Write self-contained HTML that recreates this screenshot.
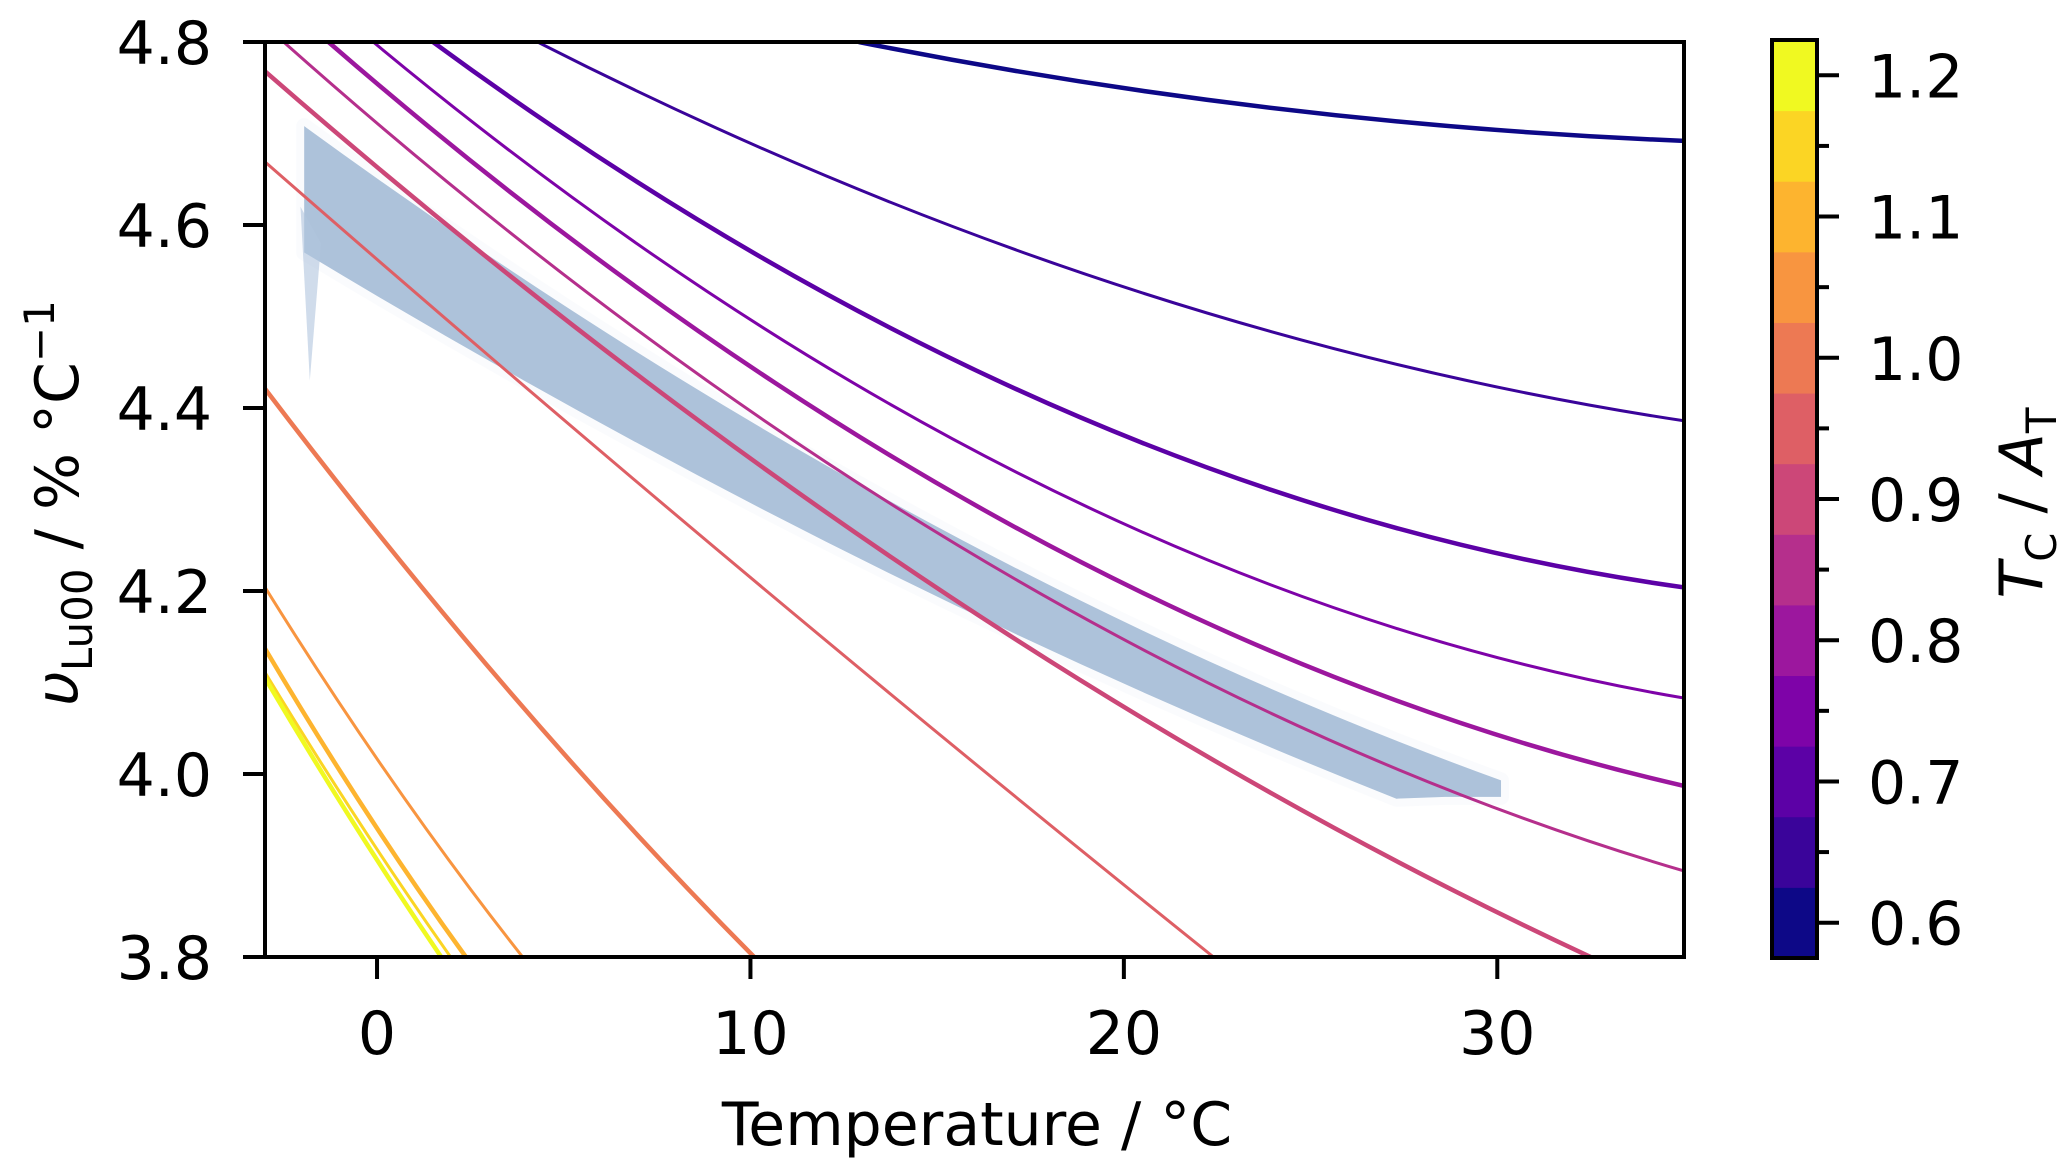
<!DOCTYPE html>
<html><head><meta charset="utf-8"><style>
html,body{margin:0;padding:0;background:#fff}
svg{display:block}
text{font-family:"DejaVu Sans","Liberation Sans",sans-serif;fill:#000}
</style></head><body>
<svg id="chart" width="2067" height="1173" viewBox="0 0 2067 1173" xmlns="http://www.w3.org/2000/svg">
<g id="plot"></g>
<g id="cbar"></g>
<text x="977" y="1145" font-size="60" text-anchor="middle">Temperature / °C</text>
<text transform="translate(78,503) rotate(-90)" font-size="60" text-anchor="middle"><tspan font-style="italic">υ</tspan><tspan font-size="42" dy="14">Lu00</tspan><tspan dy="-14"> / % °C</tspan><tspan font-size="42" dy="-24">−1</tspan></text>
<text transform="translate(2042,503) rotate(-90)" font-size="60" text-anchor="middle"><tspan font-style="italic">T</tspan><tspan font-size="42" dy="14">C</tspan><tspan dy="-14"> / </tspan><tspan font-style="italic">A</tspan><tspan font-size="42" dy="14">T</tspan></text>
</svg>
<script>
const xTicks=[0,10,20,30];
const yTicks=[3.8,4.0,4.2,4.4,4.6,4.8];
const cbTicks=[0.6,0.7,0.8,0.9,1.0,1.1,1.2];
const cbLevels=[0.6,0.65,0.7,0.75,0.8,0.85,0.9,0.95,1.0,1.05,1.1,1.15,1.2];
const cbColors=["#0d0887","#3a049a","#5c01a6","#7e03a8","#9c179e","#b52f8c","#cc4778","#de5f65","#ed7953","#f89540","#fdb42f","#fbd524","#f0f921"];
// curves: start, middle, end points [x,y]
const c060=[[12.9,4.8],[23.95,4.728],[35,4.692]];
const c065=[[4.3,4.8],[19.65,4.537],[35,4.386]];
const c070=[[1.5,4.8],[18.25,4.40],[35,4.204]];
const c075=[[-0.1,4.8],[17.45,4.323],[35,4.083]];
const c080=[[-1.3,4.8],[16.85,4.275],[35,3.987]];
const c085=[[-2.5,4.8],[16.25,4.233],[35,3.894]];
const c090=[[-3,4.768],[14.75,4.21],[32.5,3.8]];
const c095=[[-3,4.669],[9.7,4.225],[22.4,3.8]];
const c100=[[-3,4.421],[3.55,4.09],[10.1,3.8]];
const c105=[[-3,4.204],[0.45,3.99],[3.9,3.8]];
const c110=[[-3,4.137],[-0.31,3.96],[2.38,3.8]];
const c115=[[-3,4.111],[-0.52,3.95],[1.97,3.8]];
const c120=[[-3,4.105],[-0.64,3.947],[1.72,3.8]];
const curves=[c060,c065,c070,c075,c080,c085,c090,c095,c100,c105,c110,c115,c120];
const widths=[4.5,3,4.5,3,4.5,3,4.5,3,4.5,3,4.5,3,4.5];
// scatter band edges: start, middle, end
const bandHi=[[-1.95,4.708],[14.1,4.29],[30.1,3.993]];
const bandLo=[[-1.95,4.57],[12.7,4.24],[27.3,3.973]];
const bandTail=[[28.6,3.975],[30.1,3.975]];
const x0=265,x1=1684,y0=42,y1=957,xmin=-3,xmax=35,ymin=3.8,ymax=4.8;
const X=v=>x0+(v-xmin)/(xmax-xmin)*(x1-x0);
const Y=v=>y1-(v-ymin)/(ymax-ymin)*(y1-y0);
const NS="http://www.w3.org/2000/svg";
function mk(t,a,p){const e=document.createElementNS(NS,t);for(const k in a)e.setAttribute(k,a[k]);p.appendChild(e);return e;}
const plot=document.getElementById('plot');
const defs=mk('defs',{},plot);
const cp=mk('clipPath',{id:'clip'},defs);
mk('rect',{x:x0,y:y0,width:x1-x0,height:y1-y0},cp);
const g=mk('g',{'clip-path':'url(#clip)'},plot);
// quadratic through start, mid (at t=0.5), end
function quad(pts,move){
  const s=[X(pts[0][0]),Y(pts[0][1])],m=[X(pts[1][0]),Y(pts[1][1])],e=[X(pts[2][0]),Y(pts[2][1])];
  const c=[2*m[0]-(s[0]+e[0])/2,2*m[1]-(s[1]+e[1])/2];
  return (move?'M':'L')+s+'Q'+c+' '+e;
}
const rev=a=>a.slice().reverse();
let d=quad(bandHi,true)+'L'+X(bandTail[1][0])+','+Y(bandTail[1][1])+'L'+X(bandTail[0][0])+','+Y(bandTail[0][1])+quad(rev(bandLo),false)+'Z';
const halo=mk('path',{d:d,fill:'#b0c4de',opacity:0.25,stroke:'#b0c4de','stroke-width':16,'stroke-opacity':0.25,'stroke-linejoin':'round'},g);


const band=mk('path',{d:d,fill:'#adc2da'},g);


const spike=mk('path',{d:'M'+X(-2.05)+','+Y(4.62)+'L'+X(-1.8)+','+Y(4.43)+'L'+X(-1.5)+','+Y(4.58)+'Z',fill:'#b0c4de',opacity:0.6},g);


curves.forEach((c,i)=>{
  const p=mk('path',{d:quad(c,true),fill:'none',stroke:cbColors[i],'stroke-width':widths[i]},g);
  
  
});
const frame=mk('rect',{x:x0,y:y0,width:x1-x0,height:y1-y0,fill:'none',stroke:'#000','stroke-width':4},plot);


xTicks.forEach(t=>{
  const l=mk('line',{x1:X(t),x2:X(t),y1:y1,y2:y1+22,stroke:'#000','stroke-width':4},plot);
  
  
  const tx=mk('text',{x:X(t),y:1054,'font-size':60,'text-anchor':'middle'},plot);
  tx.textContent=t;
  
  
});
yTicks.forEach(t=>{
  const l=mk('line',{x1:x0-22,x2:x0,y1:Y(t),y2:Y(t),stroke:'#000','stroke-width':4},plot);
  
  
  const tx=mk('text',{x:212,y:Y(t)+22,'font-size':60,'text-anchor':'end'},plot);
  tx.textContent=t.toFixed(1);
  
  
});
// colorbar
const cb=document.getElementById('cbar');
const cx0=1772,cx1=1817,ct=40,cbot=958,vmin=0.575,vmax=1.225;
const CY=v=>cbot-(v-vmin)/(vmax-vmin)*(cbot-ct);
cbLevels.forEach((v,i)=>{
  const r=mk('rect',{x:cx0,y:CY(v+0.025),width:cx1-cx0,height:CY(v-0.025)-CY(v+0.025)+0.5,fill:cbColors[i]},cb);
  
  
});
const cf=mk('rect',{x:cx0,y:ct,width:cx1-cx0,height:cbot-ct,fill:'none',stroke:'#000','stroke-width':4},cb);


cbLevels.forEach(v=>{
  const major=cbTicks.some(t=>Math.abs(t-v)<1e-6);
  const l=mk('line',{x1:cx1,x2:cx1+(major?22:12),y1:CY(v),y2:CY(v),stroke:'#000','stroke-width':4},cb);
  
  
});
cbTicks.forEach(t=>{
  const tx=mk('text',{x:1868,y:CY(t)+22,'font-size':60},cb);
  tx.textContent=t.toFixed(1);
  
  
});
</script>
</body></html>
